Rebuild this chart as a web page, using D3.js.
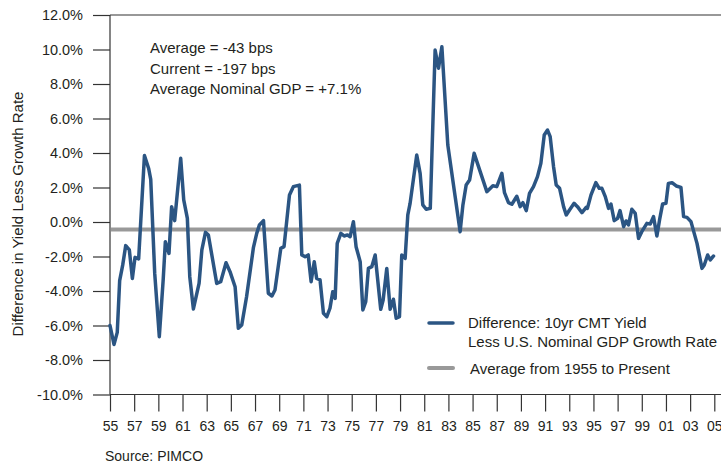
<!DOCTYPE html>
<html><head><meta charset="utf-8">
<script src="https://cdn.jsdelivr.net/npm/d3@7"></script>
<style>
html,body{margin:0;padding:0;background:#fff;}
svg{display:block;font-family:"Liberation Sans",Arial,Helvetica,sans-serif;}
</style></head>
<body>
<svg id="chart" width="721" height="465"></svg>
<script>
const years = [1955.0,1955.33,1955.6,1955.8,1956.05,1956.3,1956.6,1956.85,1957.07,1957.37,1957.85,1958.2,1958.37,1958.7,1959.08,1959.4,1959.58,1959.88,1960.1,1960.35,1960.85,1961.1,1961.4,1961.6,1961.9,1962.37,1962.6,1962.9,1963.14,1963.83,1964.16,1964.6,1964.93,1965.35,1965.62,1965.9,1966.3,1966.87,1967.14,1967.36,1967.7,1968.1,1968.4,1968.65,1969.13,1969.4,1969.85,1970.17,1970.67,1970.87,1971.14,1971.4,1971.64,1971.9,1972.1,1972.38,1972.66,1972.94,1973.2,1973.43,1973.63,1973.8,1974.1,1974.37,1974.65,1974.87,1975.14,1975.36,1975.7,1975.92,1976.16,1976.38,1976.66,1976.94,1977.4,1977.6,1977.9,1978.18,1978.45,1978.68,1978.95,1979.14,1979.42,1979.64,1979.83,1980.38,1980.66,1980.88,1981.16,1981.5,1981.9,1982.18,1982.46,1982.95,1983.56,1983.97,1984.2,1984.47,1984.75,1985.13,1985.63,1986.18,1986.68,1987.0,1987.42,1987.64,1987.97,1988.25,1988.66,1988.94,1989.16,1989.44,1989.71,1990.04,1990.37,1990.65,1990.93,1991.2,1991.42,1991.7,1991.92,1992.2,1992.53,1992.75,1993.02,1993.4,1993.68,1994.05,1994.4,1994.5,1994.8,1995.2,1995.48,1995.7,1995.98,1996.25,1996.45,1996.72,1997.0,1997.2,1997.5,1997.7,1997.9,1998.18,1998.46,1998.73,1999.0,1999.42,1999.7,1999.97,2000.25,2000.47,2000.72,2001.0,2001.2,2001.5,2001.85,2002.24,2002.46,2002.74,2003.07,2003.57,2003.98,2004.17,2004.45,2004.67,2004.94];
const diffValues = [-6.0,-7.1,-6.4,-3.4,-2.5,-1.37,-1.62,-3.27,-2.05,-2.14,3.85,3.1,2.47,-2.98,-6.65,-3.36,-1.14,-1.82,0.89,0.08,3.69,1.28,0.21,-3.17,-5.04,-3.56,-1.62,-0.6,-0.75,-3.56,-3.46,-2.36,-2.88,-3.75,-6.16,-5.97,-4.33,-1.47,-0.66,-0.17,0.08,-4.13,-4.29,-3.94,-1.53,-1.43,1.57,2.05,2.14,-1.91,-2.01,-1.91,-3.46,-2.3,-3.27,-3.36,-5.29,-5.49,-5.0,-4.04,-4.43,-1.24,-0.66,-0.81,-0.75,-0.85,0.02,-1.43,-2.3,-5.1,-4.62,-2.69,-2.59,-1.91,-5.06,-4.52,-2.69,-5.06,-4.48,-5.58,-5.49,-1.91,-2.11,0.41,1.08,3.88,2.82,0.99,0.74,0.79,9.97,8.91,10.16,4.46,1.47,-0.56,0.99,2.14,2.43,3.98,2.92,1.76,2.1,2.05,2.82,1.7,1.12,1.03,1.49,0.89,1.12,0.66,1.66,2.05,2.63,3.4,5.04,5.33,4.95,3.21,2.14,1.95,0.89,0.41,0.7,1.08,0.89,0.54,0.85,0.79,1.57,2.28,1.95,1.95,1.47,0.79,1.04,0.08,0.21,0.66,-0.27,0.06,-0.17,0.74,0.5,-0.95,-0.56,-0.08,-0.12,0.31,-0.81,0.12,1.04,1.08,2.24,2.28,2.09,2.01,0.31,0.27,0.02,-1.24,-2.69,-2.49,-1.91,-2.2,-1.97];
const averageValue = -0.43;
const yTickValues = [12,10,8,6,4,2,0,-2,-4,-6,-8,-10];
const xTickYears = d3.range(1955, 2006, 2);
const notes = ["Average = -43 bps","Current = -197 bps","Average Nominal GDP = +7.1%"];
const legendLines1 = ["Difference: 10yr CMT Yield","Less U.S. Nominal GDP Growth Rate"];
const legendLine2 = "Average from 1955 to Present";

const svg = d3.select("#chart");
const W = 721;
const x = d3.scaleLinear().domain([1955, 2005]).range([110, 714.3]);
const y = d3.scaleLinear().domain([-10, 12]).range([394.5, 15]);
const axisColor = "#333";
const textColor = "#231f20";
const blue = "#2b5583";
const gray = "#999999";

// Frame lines
svg.append("line").attr("x1", 110).attr("x2", W).attr("y1", y(12)).attr("y2", y(12)).attr("stroke", axisColor).attr("stroke-width", 1.2);
svg.append("line").attr("x1", 110).attr("x2", W).attr("y1", y(-10)).attr("y2", y(-10)).attr("stroke", axisColor).attr("stroke-width", 1.2);
svg.append("line").attr("x1", 110).attr("x2", 110).attr("y1", y(12)).attr("y2", y(-10)).attr("stroke", axisColor).attr("stroke-width", 1.2);

// Y axis
const yAxis = d3.axisLeft(y).tickValues(yTickValues).tickSize(17).tickPadding(10)
  .tickFormat(d => d.toFixed(1) + "%");
const yg = svg.append("g").attr("transform", "translate(110,0)").call(yAxis);
yg.select(".domain").remove();
yg.selectAll(".tick line").attr("stroke", axisColor).attr("stroke-width", 1.2);
yg.selectAll(".tick text").attr("fill", textColor).attr("font-size", 14.5)
  .attr("font-family", "'Liberation Sans',Arial,sans-serif");

// X axis
const xAxis = d3.axisBottom(x).tickValues(xTickYears).tickSize(17).tickPadding(10)
  .tickFormat(d => String(d % 100).padStart(2, "0"));
const xg = svg.append("g").attr("transform", `translate(0,${y(-10)})`).call(xAxis);
xg.select(".domain").remove();
xg.selectAll(".tick line").attr("stroke", axisColor).attr("stroke-width", 1.2);
xg.selectAll(".tick text").attr("fill", textColor).attr("font-size", 14)
  .attr("font-family", "'Liberation Sans',Arial,sans-serif");

// Average line
svg.append("line").attr("x1", 111).attr("x2", W).attr("y1", y(averageValue)).attr("y2", y(averageValue))
  .attr("stroke", gray).attr("stroke-width", 4);

// Data line
const data = years.map((yr, i) => ({yr, v: diffValues[i]}));
svg.append("path").datum(data)
  .attr("d", d3.line().x(d => x(d.yr)).y(d => y(d.v)))
  .attr("fill", "none").attr("stroke", blue).attr("stroke-width", 3.5)
  .attr("stroke-linejoin", "round").attr("stroke-linecap", "round");

// Y axis title
svg.append("text").attr("transform", "translate(23,214) rotate(-90)")
  .attr("text-anchor", "middle").attr("font-size", 15).attr("fill", textColor)
  .text("Difference in Yield Less Growth Rate");

// Notes
svg.selectAll("text.note").data(notes).enter().append("text").attr("class", "note")
  .attr("x", 150).attr("y", (d, i) => 53 + i * 20.5)
  .attr("font-size", 15).attr("fill", textColor).text(d => d);

// Legend
svg.append("line").attr("x1", 429).attr("x2", 453).attr("y1", 323).attr("y2", 323)
  .attr("stroke", blue).attr("stroke-width", 3.5).attr("stroke-linecap", "round");
svg.selectAll("text.leg1").data(legendLines1).enter().append("text").attr("class", "leg1")
  .attr("x", 468).attr("y", (d, i) => 328 + i * 19).attr("font-size", 15).attr("fill", textColor).text(d => d);
svg.append("line").attr("x1", 429).attr("x2", 453).attr("y1", 368).attr("y2", 368)
  .attr("stroke", gray).attr("stroke-width", 4).attr("stroke-linecap", "round");
svg.append("text").attr("x", 470).attr("y", 374).attr("font-size", 15).attr("fill", textColor).text(legendLine2);

// Source
svg.append("text").attr("x", 105).attr("y", 461).attr("font-size", 14).attr("fill", textColor).text("Source: PIMCO");
</script>
</body></html>
